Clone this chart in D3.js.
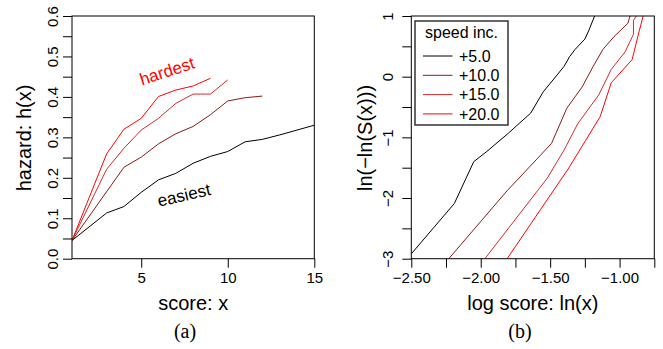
<!DOCTYPE html>
<html><head><meta charset="utf-8">
<script src="https://cdn.jsdelivr.net/npm/d3@7"></script>
<style>
body{margin:0;background:#fff;}
svg{display:block;font-family:"Liberation Sans",Arial,Helvetica,sans-serif;}
</style></head>
<body>
<svg id="chart" width="663" height="349"></svg>
<script>
// ---------- Data: panel (a) hazard ----------
const seriesNames = ["+5.0", "+10.0", "+15.0", "+20.0"];
const seriesColors = ["#000000", "#8a1a1a", "#d42a2a", "#ff0000"];

const hazX5  = [1, 3, 4, 5, 6, 7, 8, 9, 10, 11, 12, 13, 14, 15];
const hazY5  = [0.045, 0.113, 0.129, 0.164, 0.195, 0.211, 0.236, 0.253, 0.265, 0.289, 0.295, 0.306, 0.318, 0.330];
const hazX10 = [1, 4, 5, 6, 7, 8, 9, 10, 11, 12];
const hazY10 = [0.045, 0.226, 0.251, 0.284, 0.309, 0.327, 0.356, 0.390, 0.398, 0.402];
const hazX15 = [1, 3, 4, 5, 6, 7, 8, 9, 10];
const hazY15 = [0.045, 0.221, 0.273, 0.318, 0.347, 0.384, 0.407, 0.407, 0.442];
const hazX20 = [1, 3, 4, 5, 6, 7, 8, 9];
const hazY20 = [0.045, 0.259, 0.320, 0.347, 0.401, 0.417, 0.427, 0.446];

// ---------- Data: panel (b) log-log survival ----------
const lnX5  = [-2.50, -2.19, -2.05, -1.96, -1.80, -1.64, -1.55, -1.46, -1.40, -1.36, -1.32, -1.25, -1.22, -1.18];
const lnY5  = [-2.92, -2.09, -1.40, -1.24, -0.93, -0.60, -0.25, 0.00, 0.17, 0.33, 0.45, 0.62, 0.77, 1.00];
const lnX10 = [-2.23, -1.81, -1.49, -1.38, -1.27, -1.19, -1.12, -1.04, -0.94, -0.925];
const lnY10 = [-3.00, -1.88, -1.10, -0.52, -0.17, 0.17, 0.45, 0.66, 0.88, 1.00];
const lnX15 = [-1.97, -1.52, -1.40, -1.30, -1.15, -1.06, -0.96, -0.90, -0.90, -0.88];
const lnY15 = [-3.00, -1.67, -1.21, -0.77, -0.30, 0.12, 0.41, 0.70, 0.93, 1.00];
const lnX20 = [-1.81, -1.37, -1.14, -1.06, -0.91, -0.86, -0.83];
const lnY20 = [-3.00, -1.52, -0.66, -0.10, 0.28, 0.74, 1.00];

// ---------- Ticks ----------
const hazYTicks = [0, 0.05, 0.1, 0.15, 0.2, 0.25, 0.3, 0.35, 0.4, 0.45, 0.5, 0.55, 0.6];
const hazYLabels = ["0.0", "", "0.1", "", "0.2", "", "0.3", "", "0.4", "", "0.5", "", "0.6"];
const hazXTicks = [5, 10, 15];
const hazXLabels = ["5", "10", "15"];
const lnYTicks = [-3, -2.5, -2, -1.5, -1, -0.5, 0, 0.5, 1];
const lnYLabels = ["\u22123", "", "\u22122", "", "\u22121", "", "0", "", "1"];
const lnXTicks = [-2.5, -2.25, -2.0, -1.75, -1.5, -1.25, -1.0, -0.75];
const lnXLabels = ["\u22122.50", "", "\u22122.00", "", "\u22121.50", "", "\u22121.00", ""];

const zip = (xs, ys) => xs.map((x, i) => [x, ys[i]]);
const hazSeries = [zip(hazX5, hazY5), zip(hazX10, hazY10), zip(hazX15, hazY15), zip(hazX20, hazY20)];
const lnSeries = [zip(lnX5, lnY5), zip(lnX10, lnY10), zip(lnX15, lnY15), zip(lnX20, lnY20)];

const svg = d3.select("#chart");
const plotTop = 16, plotBottom = 258.7;

function panel(opts) {
  const x = d3.scaleLinear().domain(opts.xDomain).range(opts.xRange);
  const y = d3.scaleLinear().domain(opts.yDomain).range([plotBottom, plotTop]);
  const g = svg.append("g");

  const clipId = "clip" + opts.id;
  svg.append("defs").append("clipPath").attr("id", clipId)
    .append("rect").attr("x", opts.xRange[0]).attr("y", plotTop)
    .attr("width", opts.xRange[1] - opts.xRange[0]).attr("height", plotBottom - plotTop);

  const line = d3.line().x(d => x(d[0])).y(d => y(d[1]));
  g.append("g").attr("clip-path", `url(#${clipId})`)
    .selectAll("path").data(opts.series).join("path")
    .attr("d", line).attr("fill", "none")
    .attr("stroke", (d, i) => seriesColors[i]).attr("stroke-width", 1);

  // box
  g.append("rect").attr("x", opts.xRange[0]).attr("y", plotTop)
    .attr("width", opts.xRange[1] - opts.xRange[0]).attr("height", plotBottom - plotTop)
    .attr("fill", "none").attr("stroke", "#000").attr("stroke-width", 1);

  // y axis
  const ya = g.append("g").attr("transform", `translate(${opts.xRange[0]},0)`)
    .call(d3.axisLeft(y).tickValues(opts.yTicks).tickSize(9).tickSizeOuter(0)
      .tickFormat((d, i) => opts.yLabels[i]));
  ya.select(".domain").remove();
  ya.selectAll("text").attr("transform", "rotate(-90)").attr("x", 0).attr("y", opts.yLabelOff)
    .attr("dy", 0).attr("text-anchor", "middle").attr("fill", "#000")
    .style("font-size", "15px").style("font-family", "Liberation Sans, Arial, sans-serif");
  ya.selectAll("line").attr("stroke", "#000");

  // x axis
  const xa = g.append("g").attr("transform", `translate(0,${plotBottom})`)
    .call(d3.axisBottom(x).tickValues(opts.xTicks).tickSize(9).tickSizeOuter(0).tickPadding(5)
      .tickFormat((d, i) => opts.xLabels[i]));
  xa.select(".domain").remove();
  xa.selectAll("text").attr("fill", "#000")
    .style("font-size", "15px").style("font-family", "Liberation Sans, Arial, sans-serif");
  xa.selectAll("line").attr("stroke", "#000");

  // titles
  const cx = (opts.xRange[0] + opts.xRange[1]) / 2;
  g.append("text").attr("x", cx).attr("y", 310).attr("text-anchor", "middle")
    .style("font-size", "20px").text(opts.xTitle);
  g.append("text").attr("transform", `translate(${opts.yTitleX},138) rotate(-90)`)
    .attr("text-anchor", "middle").attr("dy", "0.35em")
    .style("font-size", "20px").text(opts.yTitle);
  g.append("text").attr("x", opts.capX).attr("y", 338).attr("text-anchor", "middle")
    .style("font-size", "20px").style("font-family", "Liberation Serif, Times New Roman, serif")
    .text(opts.caption);
  return {x, y, g};
}

const A = panel({
  id: "a", xDomain: [1, 15], xRange: [72, 314.3], yDomain: [0, 0.6],
  series: hazSeries, yTicks: hazYTicks, yLabels: hazYLabels, yLabelOff: -14,
  xTicks: hazXTicks, xLabels: hazXLabels,
  xTitle: "score: x", yTitle: "hazard: h(x)", yTitleX: 24, capX: 185, caption: "(a)"
});

A.g.append("text").attr("transform", `translate(167,71) rotate(-18)`)
  .attr("text-anchor", "middle").attr("dy", "0.35em").attr("fill", "#ff0000")
  .style("font-size", "17px").text("hardest");
A.g.append("text").attr("transform", `translate(184,195) rotate(-13)`)
  .attr("text-anchor", "middle").attr("dy", "0.35em").attr("fill", "#000")
  .style("font-size", "17px").text("easiest");

const B = panel({
  id: "b", xDomain: [-2.5, -0.75], xRange: [411.3, 654.3], yDomain: [-3, 1],
  series: lnSeries, yTicks: lnYTicks, yLabels: lnYLabels, yLabelOff: -18,
  xTicks: lnXTicks, xLabels: lnXLabels,
  xTitle: "log score: ln(x)", yTitle: "ln(\u2212ln(S(x)))", yTitleX: 365, capX: 520, caption: "(b)"
});

// legend
const lg = B.g.append("g");
lg.append("rect").attr("x", 415).attr("y", 21).attr("width", 93).attr("height", 104)
  .attr("fill", "#fff").attr("stroke", "#333").attr("stroke-width", 1.5);
lg.append("text").attr("x", 461.5).attr("y", 38).attr("text-anchor", "middle")
  .style("font-size", "16px").text("speed inc.");
seriesNames.forEach((name, i) => {
  const yy = 56 + i * 19.3;
  lg.append("line").attr("x1", 423).attr("x2", 452.5).attr("y1", yy).attr("y2", yy)
    .attr("stroke", seriesColors[i]).attr("stroke-width", 1);
  lg.append("text").attr("x", 459).attr("y", yy).attr("dy", "0.36em")
    .style("font-size", "16px").text(name);
});
</script>
</body></html>
